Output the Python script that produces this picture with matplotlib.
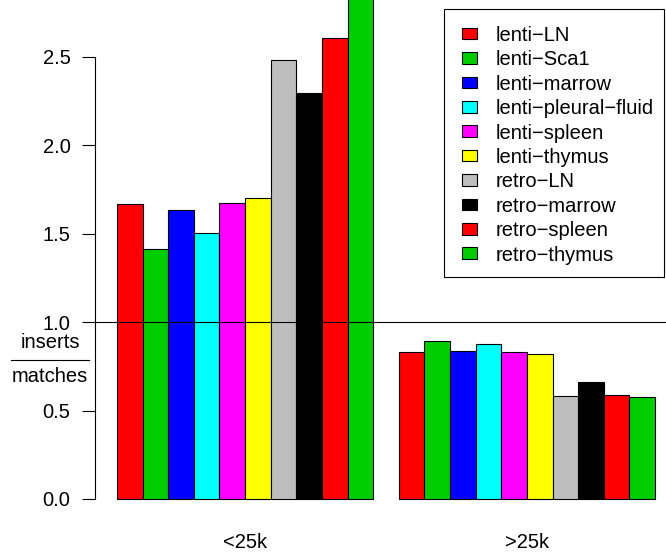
import matplotlib
matplotlib.use("Agg")
import matplotlib.pyplot as plt
import numpy as np
from matplotlib.patches import Rectangle
from matplotlib.lines import Line2D
from matplotlib.transforms import blended_transform_factory

plt.rcParams["font.family"] = ["Liberation Sans", "DejaVu Sans"]
plt.rcParams["axes.unicode_minus"] = True

# Data: inserts / matches ratio per sample, split by distance bin
groups = ["<25k", ">25k"]
samples = ["lenti\u2212LN", "lenti\u2212Sca1", "lenti\u2212marrow", "lenti\u2212pleural\u2212fluid",
           "lenti\u2212spleen", "lenti\u2212thymus", "retro\u2212LN", "retro\u2212marrow",
           "retro\u2212spleen", "retro\u2212thymus"]
below_25k = [1.67, 1.415, 1.635, 1.505, 1.675, 1.70, 2.485, 2.295, 2.61, 2.95]
above_25k = [0.83, 0.893, 0.835, 0.877, 0.83, 0.822, 0.584, 0.66, 0.588, 0.577]
colors = ["#FF0000", "#00CD00", "#0000FF", "#00FFFF", "#FF00FF",
          "#FFFF00", "#BEBEBE", "#000000", "#FF0000", "#00CD00"]
yticks = [0.0, 0.5, 1.0, 1.5, 2.0, 2.5]

FS = 14.5
W, H = 666, 554
fig = plt.figure(figsize=(W / 100, H / 100), dpi=100)


def fx(px):
    return px / W


def fy(py):
    return 1 - py / H


# barplot(beside=TRUE) layout: unit-width bars, one-bar gap between groups
n = len(samples)
heights = np.array([below_25k, above_25k])
ymax = heights.max()
ylo, yhi = -0.04 * ymax, 1.04 * ymax
xlo, xhi = 1 - 0.04 * 21, 22 + 0.04 * 21

px_per_x = 25.62
px_per_y = 176.8
left_px = 117 - (1 - xlo) * px_per_x
zero_px = 499
bottom_px = zero_px + (0 - ylo) * px_per_y
ax_w = (xhi - xlo) * px_per_x
ax_h = (yhi - ylo) * px_per_y
ax = fig.add_axes([fx(left_px), fy(bottom_px), ax_w / W, ax_h / H])
ax.set_xlim(xlo, xhi)
ax.set_ylim(ylo, yhi)

group_centers = []
for g in range(2):
    start = 1 + g * (n + 1)
    lefts = start + np.arange(n)
    ax.bar(lefts, heights[g], width=1.0, align="edge", color=colors,
           edgecolor="black", linewidth=0.8, zorder=2)
    group_centers.append(start + n / 2)

ax.axhline(1.0, color="black", linewidth=0.8, zorder=3)

for s in ["top", "right", "bottom"]:
    ax.spines[s].set_visible(False)
ax.spines["left"].set_bounds(0, 2.5)
ax.spines["left"].set_linewidth(0.8)
ax.set_yticks(yticks)
ax.set_yticklabels([f"{t:.1f}" for t in yticks], fontsize=FS)
ax.tick_params(axis="y", length=9.4, width=0.8, pad=8.6)
ax.set_xticks([])

# group labels below the bars
label_tf = blended_transform_factory(ax.transData, fig.transFigure)
for c, lab in zip(group_centers, groups):
    ax.text(c, fy(543), lab, transform=label_tf,
            ha="center", va="center", fontsize=FS)

# y label drawn as a fraction
fig.text(fx(50), fy(342), "inserts", ha="center", va="center", fontsize=FS)
fig.text(fx(50), fy(377), "matches", ha="center", va="center", fontsize=FS)
fig.add_artist(Line2D([fx(11), fx(89)], [fy(360), fy(360)],
                      color="black", linewidth=0.8))

# legend box with filled keys
fig.add_artist(Rectangle((fx(444), fy(277)), (664 - 444) / W, (277 - 9) / H,
                         transform=fig.transFigure, facecolor="white",
                         edgecolor="black", linewidth=0.8, zorder=5))
row0, pitch = 33.5, 24.4
for i, (lab, c) in enumerate(zip(samples, colors)):
    yc = row0 + i * pitch
    fig.add_artist(Rectangle((fx(462), fy(yc + 5.8)), 15 / W, 11.6 / H,
                             transform=fig.transFigure, facecolor=c,
                             edgecolor="black", linewidth=0.8, zorder=6))
    fig.text(fx(496), fy(yc), lab, ha="left", va="center_baseline",
             fontsize=FS, zorder=6)

fig.savefig("out.png", dpi=100)
